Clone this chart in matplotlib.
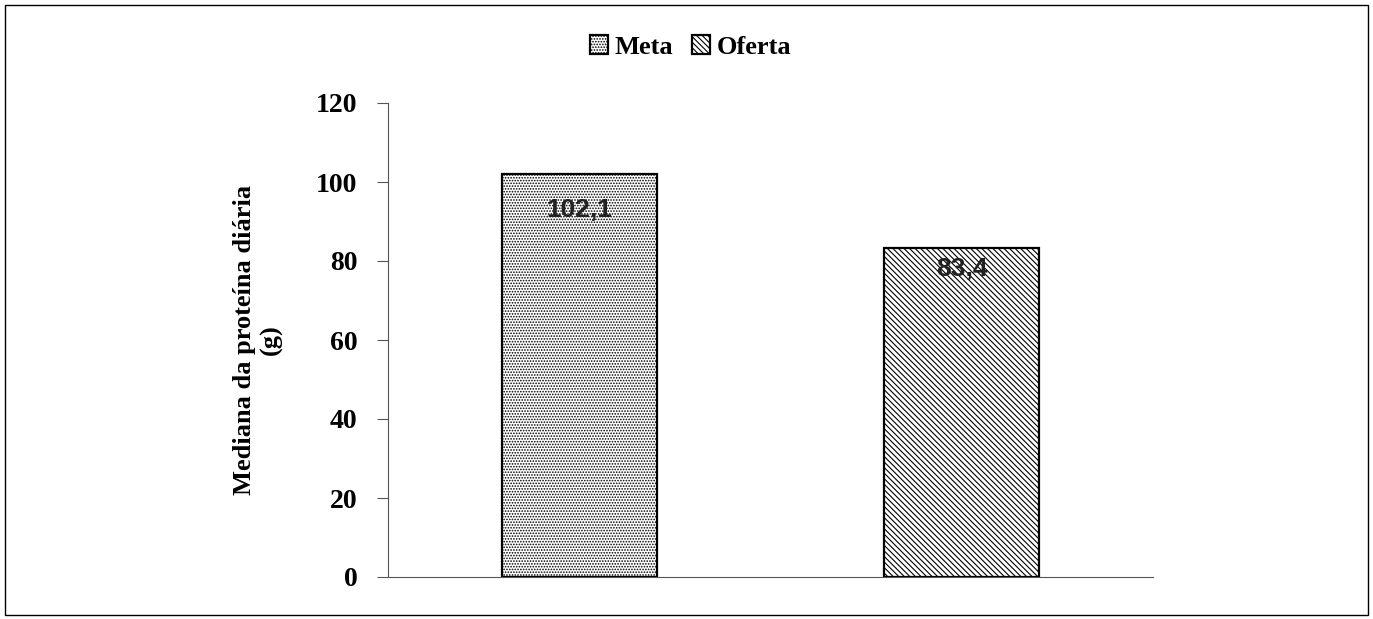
import matplotlib
matplotlib.use('Agg')
from matplotlib import pyplot as plt
from matplotlib.patches import Rectangle

categories = ['Meta', 'Oferta']
values = [102.1, 83.4]
value_labels = ['102,1', '83,4']
hatches = ['......', '\\\\\\\\\\\\']
label_offsets = [-36, -21]  # pixels below bar top
yticks = [0, 20, 40, 60, 80, 100, 120]

plt.rcParams['hatch.linewidth'] = 0.8

fig = plt.figure(figsize=(13.73, 6.19), dpi=100)
ax = fig.add_axes([388 / 1373, 1 - 577 / 619, 765 / 1373, 474 / 619])

x = range(len(categories))
bars = []
for i in x:
    b = ax.bar(i, values[i], width=0.405, color='white', edgecolor='black',
               linewidth=1.6, hatch=hatches[i], label=categories[i])
    bars.append(b)

for i in x:
    ax.annotate(value_labels[i], (i, values[i]), xytext=(0, label_offsets[i] * 0.72),
                textcoords='offset points', ha='center', va='center',
                fontsize=19, fontfamily='Liberation Sans', fontweight='bold',
                color='#222222')

ax.set_xlim(-0.5, 1.5)
ax.set_ylim(0, 120)
ax.set_yticks(yticks)
ax.set_yticklabels([str(t) for t in yticks], fontfamily='Liberation Serif',
                   fontweight='bold', fontsize=20)
ax.set_xticks([])
ax.spines['top'].set_visible(False)
ax.spines['right'].set_visible(False)
ax.spines['left'].set_color('#555555')
ax.spines['bottom'].set_color('#555555')
ax.tick_params(axis='y', direction='out', length=8, color='#555555', pad=14)

ax.set_ylabel('Mediana da proteína diária\n(g)', fontfamily='Liberation Serif',
              fontweight='bold', fontsize=19, labelpad=24, linespacing=1.15)

leg = fig.legend(handles=[b[0] for b in bars], labels=categories,
                 loc='center', bbox_to_anchor=(0.503, 1 - 47 / 619), ncol=2,
                 frameon=False, handlelength=0.7, handleheight=0.7,
                 handletextpad=0.25, columnspacing=0.7,
                 prop={'family': 'Liberation Serif', 'weight': 'bold', 'size': 19})

fig.patches.append(Rectangle((5 / 1373, 4 / 619), 1363 / 1373, 610 / 619,
                             transform=fig.transFigure, fill=False,
                             edgecolor='black', linewidth=1.0))

fig.savefig('out.png', dpi=100)
